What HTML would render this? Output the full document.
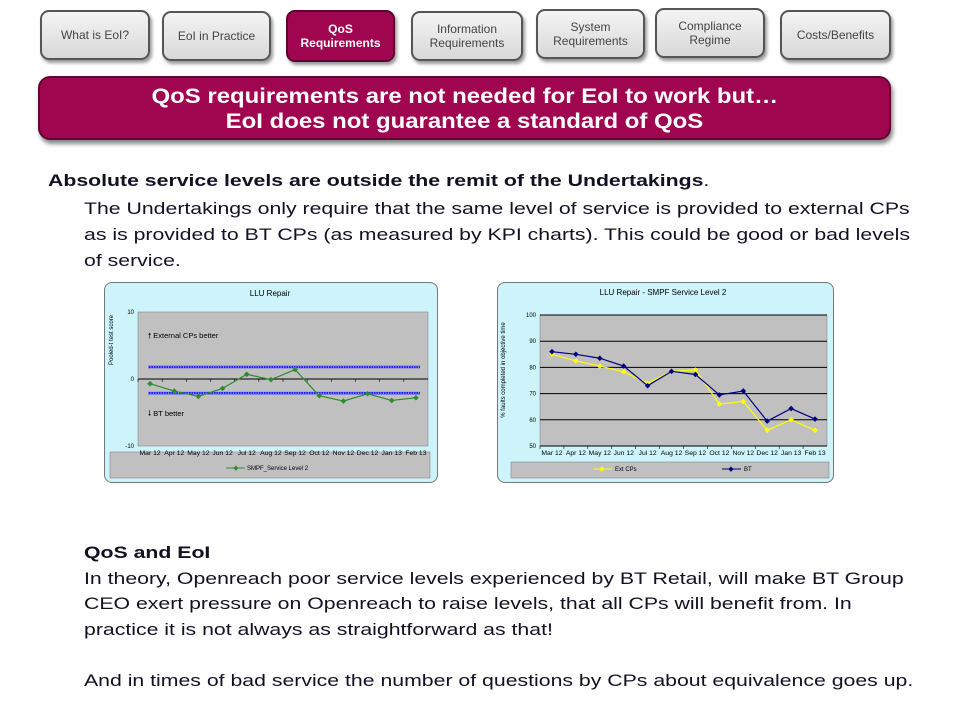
<!DOCTYPE html>
<html><head><meta charset="utf-8"><style>
body{margin:0;width:960px;height:720px;background:#fff;font-family:"Liberation Sans",sans-serif;position:relative;overflow:hidden}
.btn{position:absolute;height:50px;border:2px solid #555;border-radius:9px;background:linear-gradient(#f4f4f4,#d8d8d8);box-shadow:2px 3px 3px #999;display:flex;align-items:center;justify-content:center;text-align:center;font-size:12px;color:#444;line-height:14px;box-sizing:border-box}
.btn.on{background:#a0064f;color:#fff;font-weight:bold;border-color:#5a0330}
#banner{position:absolute;left:38px;top:76px;width:853px;height:64px;background:#a0064f;border-radius:12px;border:2px solid #600232;box-sizing:border-box;box-shadow:2px 4px 4px #888;color:#fff;font-weight:bold;font-size:21px;text-align:center;line-height:25px;padding-top:6px}
#banner span{display:inline-block;transform:scaleX(1.14)}
.t{position:absolute;font-size:17px;color:#112;white-space:nowrap;transform:scaleX(1.25);transform-origin:0 0}
.panel{position:absolute;border:1px solid #777;border-radius:8px;background:#ccf4fa}
svg text{font-family:"Liberation Sans",sans-serif}
</style></head><body>
<div class="btn" style="left:40px;top:10px;width:110px">What is EoI?</div>
<div class="btn" style="left:162px;top:11px;width:109px">EoI in Practice</div>
<div class="btn on" style="left:286px;top:10px;width:109px;height:52px">QoS<br>Requirements</div>
<div class="btn" style="left:411px;top:11px;width:112px">Information<br>Requirements</div>
<div class="btn" style="left:536px;top:9px;width:109px">System<br>Requirements</div>
<div class="btn" style="left:655px;top:8px;width:110px">Compliance<br>Regime</div>
<div class="btn" style="left:780px;top:10px;width:111px">Costs/Benefits</div>
<div id="banner"><span>QoS requirements are not needed for EoI to work but…</span><br><span>EoI does not guarantee a standard of QoS</span></div>
<div class="t" style="left:48px;top:171px;font-weight:bold">Absolute service levels are outside the remit of the Undertakings<span style="font-weight:normal">.</span></div>
<div class="t" style="left:84px;top:196px;line-height:26px">The Undertakings only require that the same level of service is provided to external CPs<br>as is provided to BT CPs (as measured by KPI charts). This could be good or bad levels<br>of service.</div>
<div class="t" style="left:84px;top:540px;line-height:25.5px"><b>QoS and EoI</b><br>In theory, Openreach poor service levels experienced by BT Retail, will make BT Group<br>CEO exert pressure on Openreach to raise levels, that all CPs will benefit from. In<br>practice it is not always as straightforward as that!<br><br>And in times of bad service the number of questions by CPs about equivalence goes up.</div>

<div class="panel" style="left:104px;top:282px;width:332px;height:199px"></div>
<div class="panel" style="left:497px;top:282px;width:335px;height:199px"></div>
<svg id="s" width="960" height="720" style="position:absolute;left:0;top:0">
<text x="270" y="296" font-size="8" text-anchor="middle">LLU Repair</text>
<rect x="138" y="312" width="290" height="134" fill="#c0c0c0" stroke="#777" stroke-width="0.5"/>
<text x="113" y="340" font-size="6" transform="rotate(-90 113 340)" text-anchor="middle">Pooled-t test score</text>
<text x="148" y="338" font-size="7.5">🠕 External CPs better</text>
<text x="148" y="416" font-size="7.5">🠗 BT better</text>
<rect x="110" y="452" width="320" height="26" fill="#c0c0c0" stroke="#777" stroke-width="0.5"/>
<line x1="226" y1="468" x2="245" y2="468" stroke="#3a8a3a"/><text x="236" y="470" font-size="7" fill="#3a8a3a" text-anchor="middle">◆</text>
<text x="247" y="470" font-size="6">SMPF_Service Level 2</text>
<text x="663" y="295" font-size="8" text-anchor="middle">LLU Repair - SMPF Service Level 2</text>
<rect x="540" y="315" width="287" height="131" fill="#c0c0c0" stroke="#777" stroke-width="0.5"/>
<text x="505" y="370" font-size="6" transform="rotate(-90 505 370)" text-anchor="middle">% faults completed in objective time</text>
<rect x="511" y="462" width="318" height="16" fill="#c0c0c0" stroke="#777" stroke-width="0.5"/>
<line x1="593" y1="469" x2="612" y2="469" stroke="#ffff00"/><text x="602" y="471" font-size="7" fill="#ffff00" text-anchor="middle">◆</text>
<text x="615" y="471" font-size="6">Ext CPs</text>
<line x1="722" y1="469" x2="741" y2="469" stroke="#000080"/><text x="731" y="471" font-size="7" fill="#000080" text-anchor="middle">◆</text>
<text x="744" y="471" font-size="6">BT</text>
<g id="g1"></g><g id="g2"></g>
</svg>
<script>
const cats=["Mar 12","Apr 12","May 12","Jun 12","Jul 12","Aug 12","Sep 12","Oct 12","Nov 12","Dec 12","Jan 13","Feb 13"];
const smpfScore=[-0.7,-1.8,-2.6,-1.4,0.7,-0.1,1.4,-2.5,-3.3,-2.2,-3.2,-2.8];
const upperLimit=1.8;
const lowerLimit=-2.1;
const ticks1=[10,0,-10];
const extCPs=[85,82.5,80.5,78.3,74,78.5,79,66,67,56,60,56];
const btVals=[86,85,83.5,80.5,73,78.5,77.3,69.5,71,59.5,64.3,60.3];
const ticks2=[100,90,80,70,60,50];
const NS="http://www.w3.org/2000/svg";
function mk(p,t,a){const e=document.createElementNS(NS,t);for(const k in a)e.setAttribute(k,a[k]);p.appendChild(e);return e;}
function draw(g,x0,x1,y0,y1,vmin,vmax,ticks,series,lines,zeroAxis){
  const bw=(x1-x0)/cats.length;
  const X=i=>x0+bw*(i+0.5);
  const Y=v=>y1-(v-vmin)/(vmax-vmin)*(y1-y0);
  ticks.forEach(t=>{
    if(!zeroAxis){const l=mk(g,'line',{x1:x0,x2:x1,y1:Y(t),y2:Y(t),stroke:'#000','stroke-width':1});
    
    }
    const tx=mk(g,'text',{x:x0-4,y:Y(t)+2,'font-size':6,'text-anchor':'end'});tx.textContent=t;
    
    
  });
  const ay=zeroAxis?Y(0):y1;
  mk(g,'line',{x1:x0,x2:x1,y1:ay,y2:ay,stroke:'#000','stroke-width':1});
  cats.forEach((c,i)=>{
    mk(g,'line',{x1:x0+bw*i,x2:x0+bw*i,y1:ay,y2:ay+3,stroke:'#000','stroke-width':0.6});
    const tx=mk(g,'text',{x:X(i),y:y1+9,'font-size':6.8,'text-anchor':'middle'});tx.textContent=c;
    
    
  });
  lines.forEach(v=>{
    mk(g,'line',{x1:x0+10,x2:x1-8,y1:Y(v),y2:Y(v),stroke:'#2020ff','stroke-width':2.5});
    const l=mk(g,'line',{x1:x0+10,x2:x1-8,y1:Y(v),y2:Y(v),stroke:'#fff','stroke-width':0.8,'stroke-dasharray':'1 1.5'});
    
    
  });
  series.forEach(s=>{
    const p=mk(g,'polyline',{points:s.v.map((v,i)=>X(i)+','+Y(v)).join(' '),fill:'none',stroke:s.c,'stroke-width':1.2});
    
    
    s.v.forEach((v,i)=>{
      const d=mk(g,'path',{d:`M${X(i)},${Y(v)-2.8}l2.8,2.8l-2.8,2.8l-2.8,-2.8z`,fill:s.c});
      
      
    });
  });
}
draw(document.getElementById('g1'),138,428,312,446,-10,10,ticks1,[{v:smpfScore,c:'#2e8b2e',n:'smpf-score'}],[upperLimit,lowerLimit],true);
draw(document.getElementById('g2'),540,827,315,446,50,100,ticks2,[{v:extCPs,c:'#ffff00',n:'ext-cps'},{v:btVals,c:'#000080',n:'bt'}],[],false);
</script>
</body></html>
